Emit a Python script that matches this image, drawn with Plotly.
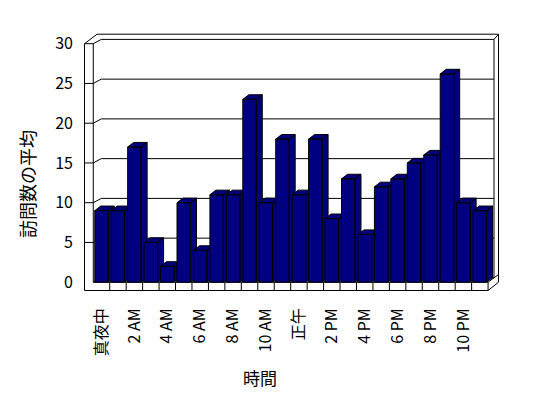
import plotly.graph_objects as go

# ---------------- data ----------------
hours = list(range(24))
visits = [9, 9, 17, 5, 2, 10, 4, 11, 11, 23, 10, 18,
          11, 18, 8, 13, 6, 12, 13, 15, 16, 26.2, 10, 9]
tick_positions = [0, 2, 4, 6, 8, 10, 12, 14, 16, 18, 20, 22]
tick_labels = ["真夜中", "2 AM", "4 AM", "6 AM", "8 AM", "10 AM",
               "正午", "2 PM", "4 PM", "6 PM", "8 PM", "10 PM"]
y_ticks = [0, 5, 10, 15, 20, 25, 30]
y_title = "訪問数の平均"
x_title = "時間"

# ---------------- geometry / style ----------------
W, H = 548, 398
ML, MR, MT, MB = 84, 46, 32, 104
PW, PH = W - ML - MR, H - MT - MB
PX_PER_X = 16.45
PX_PER_Y = 7.95
X0_PX = 101.5      # pixel of first category centre
Y0_PX = 282.2      # pixel of value 0 on the front plane
x_lo = (ML - X0_PX) / PX_PER_X
x_hi = x_lo + PW / PX_PER_X
y_hi = (Y0_PX - MT) / PX_PER_Y
y_lo = y_hi - PH / PX_PER_Y
YMAX = 30


def fx(px):  # page pixel -> x data
    return (px - X0_PX) / PX_PER_X


def ddx(p):  # pixel offset -> x data offset
    return p / PX_PER_X


def ddy(p):  # pixel offset (positive = up) -> y data offset
    return p / PX_PER_Y


NAVY = "#000080"
FONT = "Noto Sans CJK JP, Noto Sans, sans-serif"

# depth of walls (front -> back plane), and bar depth
WDX, WDY = ddx(8), ddy(4.3)
BDX, BDY = ddx(6), ddy(4.6)
HALF = 0.41
FLOOR_T = ddy(8.3)
LEFT_OUT = fx(84.5)
LEFT_IN = -0.5
RIGHT_FRONT = 23.5
BACK_L = LEFT_IN + WDX
BACK_R = fx(494)
BACK_R_OUT = fx(498.5)
TOP_OUT = YMAX + ddy(9.5)

fig = go.Figure()


def add_lines(segs, width=1):
    xs, ys = [], []
    for (xa, ya), (xb, yb) in segs:
        xs += [xa, xb, None]
        ys += [ya, yb, None]
    fig.add_trace(go.Scatter(x=xs, y=ys, mode="lines",
                             line=dict(color="black", width=width),
                             hoverinfo="skip", showlegend=False))


segs = []
# gridlines with their wall ticks
for v in y_ticks[1:-1]:
    segs.append(((LEFT_OUT, v), (LEFT_IN, v)))
    segs.append(((LEFT_IN, v), (BACK_L, v + WDY)))
    segs.append(((BACK_L, v + WDY), (BACK_R, v + WDY)))
# left wall
segs += [
    ((LEFT_OUT, YMAX), (LEFT_OUT, -FLOOR_T)),
    ((LEFT_IN, YMAX), (LEFT_IN, 0)),
    ((LEFT_OUT, YMAX), (LEFT_IN, YMAX)),
    ((LEFT_OUT, YMAX), (fx(97), TOP_OUT)),
    ((LEFT_IN, YMAX), (BACK_L, YMAX + WDY)),
    ((LEFT_IN, 0), (BACK_L, WDY)),
]
# back wall
segs += [
    ((fx(97), TOP_OUT), (BACK_R_OUT, TOP_OUT)),
    ((BACK_L, YMAX + WDY), (BACK_R, YMAX + WDY)),
    ((BACK_R, YMAX + WDY), (BACK_R_OUT, TOP_OUT)),
    ((BACK_R, YMAX + WDY), (BACK_R, WDY)),
    ((BACK_R_OUT, TOP_OUT), (BACK_R_OUT, ddy(7.7))),
]
# floor
segs += [
    ((LEFT_IN, 0), (RIGHT_FRONT, 0)),
    ((LEFT_OUT, -FLOOR_T), (RIGHT_FRONT, -FLOOR_T)),
    ((RIGHT_FRONT, 0), (RIGHT_FRONT, -FLOOR_T)),
    ((RIGHT_FRONT, -FLOOR_T), (BACK_R_OUT, -FLOOR_T + ddy(8.3))),
    ((RIGHT_FRONT, 0), (BACK_R_OUT, ddy(7.7))),
    ((BACK_R_OUT, ddy(7.7)), (BACK_R_OUT, -FLOOR_T + ddy(8.3))),
    ((BACK_L, WDY), (BACK_R, WDY)),
]
for k in hours[:-1]:
    b = k + 0.5
    segs.append(((b, 0), (b, -FLOOR_T)))
    segs.append(((b, 0), (b + WDX, WDY)))
add_lines(segs)

# bars (front, top and side faces), drawn left to right
for h, v in zip(hours, visits):
    l, r = h - HALF, h + HALF
    xs = [r, r, r + BDX, r + BDX, r, None,
          l, r, r + BDX, l + BDX, l, None,
          l, r, r, l, l]
    ys = [0, v, v + BDY, BDY, 0, None,
          v, v, v + BDY, v + BDY, v, None,
          0, 0, v, v, 0]
    fig.add_trace(go.Scatter(x=xs, y=ys, mode="lines", fill="toself",
                             fillcolor=NAVY,
                             line=dict(color="black", width=1),
                             hoverinfo="skip", showlegend=False))

fig.update_layout(
    width=W, height=H,
    margin=dict(l=ML, r=MR, t=MT, b=MB, pad=0),
    paper_bgcolor="white", plot_bgcolor="white",
    font=dict(family=FONT, size=15, color="black"),
    xaxis=dict(range=[x_lo, x_hi], tickmode="array",
               tickvals=tick_positions, ticktext=tick_labels,
               tickangle=-90, ticks="", showgrid=False, zeroline=False,
               showline=False, ticklabelstandoff=10,
               tickfont=dict(family=FONT, size=16, color="black")),
    yaxis=dict(range=[y_lo, y_hi], tickmode="array", tickvals=y_ticks,
               ticks="", showgrid=False, zeroline=False, showline=False,
               ticklabelstandoff=10,
               tickfont=dict(family=FONT, size=16, color="black")),
    annotations=[
        dict(text=y_title, xref="paper", yref="paper",
             x=(27 - ML) / PW, y=1 - (184 - MT) / PH,
             xanchor="center", yanchor="middle",
             textangle=-90, showarrow=False,
             font=dict(family=FONT, size=18, color="black")),
        dict(text=x_title, xref="paper", yref="paper",
             x=(260 - ML) / PW, y=1 - (377 - MT) / PH,
             xanchor="center", yanchor="middle",
             showarrow=False,
             font=dict(family=FONT, size=17, color="black")),
    ],
)

fig.write_html("out.html")
